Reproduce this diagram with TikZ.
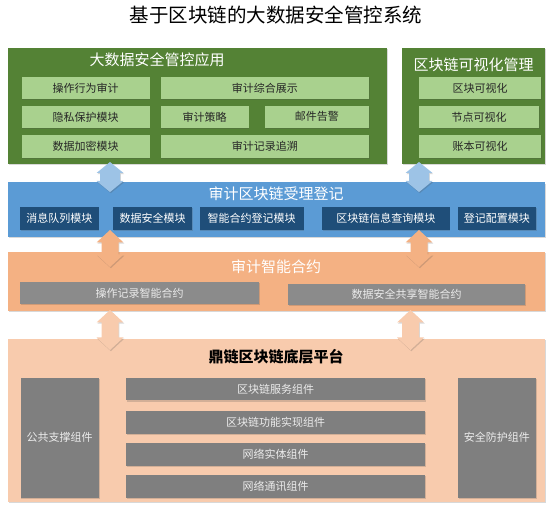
\documentclass[tikz,border=0pt]{standalone}
\usepackage{fontspec}
\setmainfont{Noto Sans CJK SC}
\usetikzlibrary{shadows}
\definecolor{gdark}{HTML}{548235}
\definecolor{glight}{HTML}{A9D18E}
\definecolor{bmain}{HTML}{5B9BD5}
\definecolor{bdark}{HTML}{1F4E79}
\definecolor{barrow}{HTML}{9DC3E6}
\definecolor{omain}{HTML}{F4B183}
\definecolor{pmain}{HTML}{F8CBAD}
\definecolor{grayA}{HTML}{8B8B8B}
\definecolor{grayB}{HTML}{7F7F7F}
\definecolor{ltext}{HTML}{EBEBEB}
\tikzset{
  shd/.style={drop shadow={shadow xshift=0.8pt, shadow yshift=-1.2pt, opacity=0.22, fill=black!70}},
  layerbox/.style={shd, inner sep=0pt, outer sep=0pt},
  subbox/.style={shd, inner sep=0pt, outer sep=0pt, font=\fontsize{11}{13}\selectfont},
  gsub/.style={subbox, fill=glight, text=black!85},
  bsub/.style={subbox, fill=bdark, text=white},
  osub/.style={subbox, fill=grayA, text=ltext},
  psub/.style={subbox, fill=grayB, text=ltext},
  ttl/.style={font=\fontsize{15}{17}\selectfont, inner sep=0pt},
}
% style, name, x1, y1, x2, y2, text
\newcommand\mybox[7]{\node[#1, minimum width={(#5-#3)*1pt}, minimum height={(#6-#4)*1pt}] (#2) at ({(#3+#5)/2},{(#4+#6)/2}) {#7};}
% color, x, y1, y2, head length, shaft half width
\newcommand\dblarrow[6]{\fill[#1, shd] (#2,#3) -- ++(13.5,#5) -- ++({-13.5+#6},0) -- ({#2+#6},{#4-#5}) -- ++({13.5-#6},0) -- (#2,#4) -- ++(-13.5,-#5) -- ++({13.5-#6},0) -- ({#2-#6},{#3+#5}) -- ++({-13.5+#6},0) -- cycle;}
\begin{document}
\begin{tikzpicture}[x=1pt,y=-1pt]
\useasboundingbox (0,0) rectangle (552,513);
\node[font=\fontsize{19.5}{22}\selectfont, inner sep=0pt] (title) at (276,15) {基于区块链的大数据安全管控系统};
% green layer
\mybox{layerbox, fill=gdark}{app}{8}{48}{387}{164}{}
\mybox{layerbox, fill=gdark}{vis}{402}{48}{545}{164}{}
\node[ttl, text=white] (apptitle) at (157,59.5) {大数据安全管控应用};
\node[ttl, text=white] (vistitle) at (473.5,65) {区块链可视化管理};
\mybox{gsub}{a1}{21.5}{77}{149.6}{99.3}{操作行为审计}
\mybox{gsub}{a2}{160.6}{77}{369}{99.3}{审计综合展示}
\mybox{gsub}{a3}{21.5}{105.7}{149.6}{128}{隐私保护模块}
\mybox{gsub}{a4}{160.6}{105.7}{248.6}{128}{审计策略}
\mybox{gsub}{a5}{264.8}{105.7}{369}{128}{邮件告警}
\mybox{gsub}{a6}{21.5}{135.3}{149.6}{158}{数据加密模块}
\mybox{gsub}{a7}{160.6}{135.3}{369}{158}{审计记录追溯}
\mybox{gsub}{v1}{419}{77}{541}{99.3}{区块可视化}
\mybox{gsub}{v2}{419}{105.7}{539}{128}{节点可视化}
\mybox{gsub}{v3}{419}{135.3}{541}{158}{账本可视化}
% blue layer
\mybox{layerbox, fill=bmain}{reg}{8}{182.5}{545}{237}{}
\node[ttl, text=white] (regtitle) at (276,193.5) {审计区块链受理登记};
\mybox{bsub}{b1}{20.4}{206.7}{98.6}{230}{消息队列模块}
\mybox{bsub}{b2}{113.4}{206.7}{191.9}{230}{数据安全模块}
\mybox{bsub}{b3}{199.6}{206.7}{303.5}{230}{智能合约登记模块}
\mybox{bsub}{b4}{322}{206.7}{449.6}{230}{区块链信息查询模块}
\mybox{bsub}{b5}{457.7}{206.7}{536}{230}{登记配置模块}
% orange layer
\mybox{layerbox, fill=omain}{sc}{8}{252}{545}{311}{}
\node[ttl, text=white] (sctitle) at (276,266.7) {审计智能合约};
\mybox{osub}{c1}{20.4}{282.3}{258.8}{304.3}{操作记录智能合约}
\mybox{osub}{c2}{288}{284}{525.4}{305}{数据安全共享智能合约}
% platform layer
\mybox{layerbox, fill=pmain}{plat}{8}{339}{545}{502}{}
\node[ttl, font=\fontsize{15}{17}\selectfont\bfseries, text=black] (plattitle) at (276,357) {鼎链区块链底层平台};
\mybox{psub}{p1}{20.5}{377.7}{99}{497.7}{公共支撑组件}
\mybox{psub}{p2}{457.7}{377.7}{536}{497.7}{安全防护组件}
\mybox{psub}{m1}{126}{377.7}{425}{400.3}{区块链服务组件}
\mybox{psub}{m2}{126}{411}{425}{434}{区块链功能实现组件}
\mybox{psub}{m3}{126}{442.7}{425}{465.7}{网络实体组件}
\mybox{psub}{m4}{126}{475}{425}{497.7}{网络通讯组件}
% arrows
\dblarrow{barrow}{110}{162}{192}{11}{10}
\dblarrow{barrow}{419}{162}{192}{11}{10}
\dblarrow{omain}{110}{230}{267}{12.5}{8.5}
\dblarrow{omain}{419}{230}{267}{12.5}{8.5}
\dblarrow{pmain}{110}{310}{350}{12.5}{8.5}
\dblarrow{pmain}{410.5}{310}{350}{12.5}{8.5}
\end{tikzpicture}
\end{document}
